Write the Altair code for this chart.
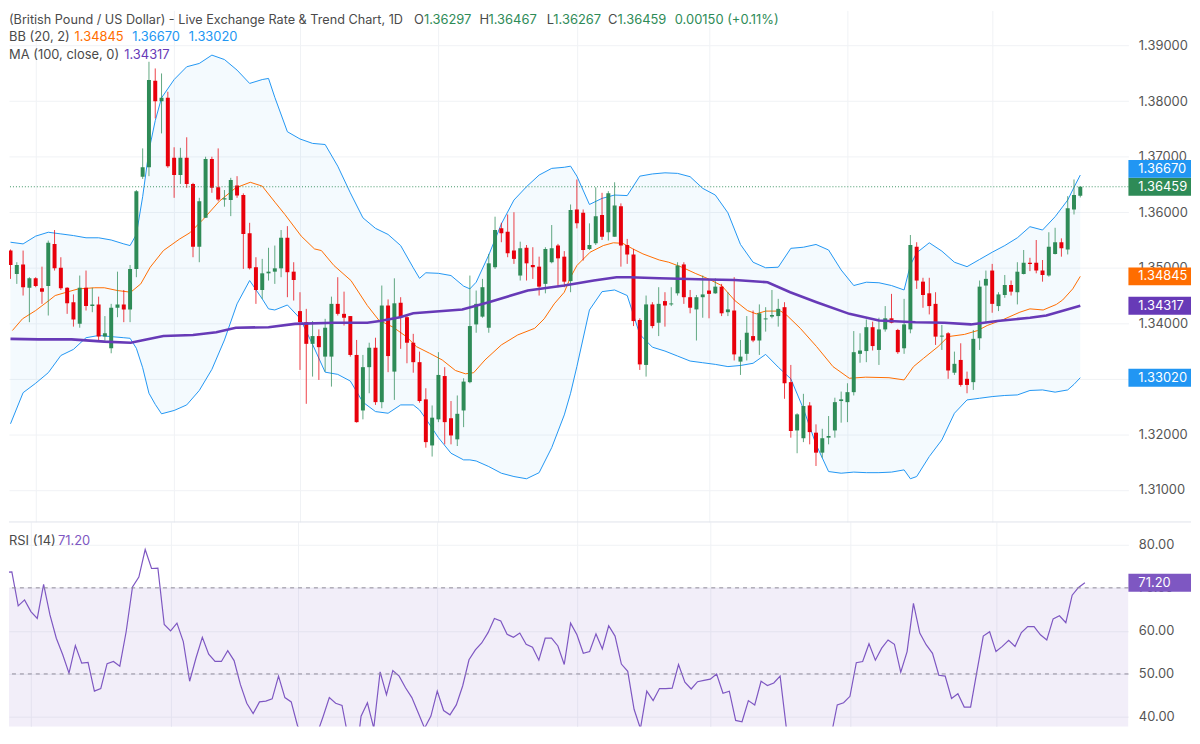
import altair as alt
import pandas as pd
import numpy as np

# ---------------- data ----------------
opens = [
1.3531, 1.3489, 1.3506, 1.3464, 1.3481, 1.3463, 1.3467, 1.3543, 1.3500, 1.3464,
1.3438, 1.3399, 1.3464, 1.3431, 1.3434, 1.3376, 1.3355, 1.3428, 1.3434, 1.3425,
1.3498, 1.3664, 1.3681, 1.3837, 1.3800, 1.3806, 1.3698, 1.3667, 1.3698, 1.3651,
1.3538, 1.3590, 1.3696, 1.3645, 1.3623, 1.3622, 1.3648, 1.3631, 1.3562, 1.3501,
1.3460, 1.3490, 1.3493, 1.3499, 1.3554, 1.3493, 1.3422, 1.3402, 1.3363, 1.3377,
1.3340, 1.3340, 1.3435, 1.3417, 1.3413, 1.3343, 1.3243, 1.3321, 1.3356, 1.3258,
1.3432, 1.3313, 1.3437, 1.3411, 1.3365, 1.3330, 1.3263, 1.3180, 1.3227, 1.3305,
1.3229, 1.3191, 1.3243, 1.3294, 1.3398, 1.3412, 1.3392, 1.3501, 1.3571, 1.3565,
1.3531, 1.3486, 1.3536, 1.3505, 1.3502, 1.3471, 1.3510, 1.3540, 1.3520, 1.3476,
1.3605, 1.3599, 1.3534, 1.3544, 1.3595, 1.3564, 1.3556, 1.3611, 1.3541, 1.3524,
1.3406, 1.3325, 1.3434, 1.3401, 1.3440, 1.3434, 1.3454, 1.3506, 1.3447, 1.3425,
1.3447, 1.3459, 1.3454, 1.3466, 1.3420, 1.3423, 1.3331, 1.3345, 1.3377, 1.3369,
1.3407, 1.3412, 1.3413, 1.3429, 1.3294, 1.3207, 1.3193, 1.3252, 1.3203, 1.3167,
1.3194, 1.3207, 1.3260, 1.3258, 1.3276, 1.3345, 1.3350, 1.3393, 1.3352, 1.3389,
1.3409, 1.3388, 1.3355, 1.3389, 1.3538, 1.3475, 1.3454, 1.3435, 1.3376, 1.3382,
1.3311, 1.3334, 1.3300, 1.3294, 1.3373, 1.3468, 1.3495, 1.3431, 1.3451, 1.3469,
1.3456, 1.3489, 1.3509, 1.3509, 1.3495, 1.3486, 1.3525, 1.3546, 1.3533, 1.3605,
1.36297]

highs = [
1.3533, 1.3510, 1.3531, 1.3483, 1.3483, 1.3502, 1.3549, 1.3568, 1.3519, 1.3465,
1.3452, 1.3486, 1.3495, 1.3464, 1.3448, 1.3413, 1.3435, 1.3493, 1.3460, 1.3505,
1.3640, 1.3715, 1.3871, 1.3859, 1.3850, 1.3817, 1.3717, 1.3716, 1.3735, 1.3653,
1.3626, 1.3700, 1.3700, 1.3715, 1.3640, 1.3662, 1.3665, 1.3634, 1.3581, 1.3519,
1.3516, 1.3536, 1.3540, 1.3568, 1.3575, 1.3510, 1.3456, 1.3426, 1.3404, 1.3389,
1.3408, 1.3448, 1.3483, 1.3457, 1.3413, 1.3370, 1.3343, 1.3365, 1.3374, 1.3468,
1.3443, 1.3481, 1.3447, 1.3415, 1.3381, 1.3349, 1.3283, 1.3252, 1.3348, 1.3321,
1.3260, 1.3270, 1.3301, 1.3486, 1.3459, 1.3480, 1.3525, 1.3592, 1.3581, 1.3596,
1.3600, 1.3547, 1.3541, 1.3537, 1.3520, 1.3537, 1.3577, 1.3543, 1.3530, 1.3614,
1.3659, 1.3605, 1.3580, 1.3645, 1.3635, 1.3638, 1.3654, 1.3616, 1.3552, 1.3534,
1.3409, 1.3450, 1.3438, 1.3465, 1.3456, 1.3465, 1.3510, 1.3510, 1.3460, 1.3451,
1.3486, 1.3480, 1.3481, 1.3471, 1.3456, 1.3483, 1.3370, 1.3413, 1.3423, 1.3434,
1.3429, 1.3460, 1.3444, 1.3438, 1.3325, 1.3238, 1.3273, 1.3258, 1.3218, 1.3210,
1.3233, 1.3266, 1.3277, 1.3292, 1.3386, 1.3382, 1.3407, 1.3403, 1.3410, 1.3431,
1.3453, 1.3390, 1.3444, 1.3559, 1.3546, 1.3482, 1.3482, 1.3456, 1.3397, 1.3384,
1.3349, 1.3364, 1.3313, 1.3388, 1.3477, 1.3495, 1.3507, 1.3456, 1.3487, 1.3477,
1.3510, 1.3532, 1.3518, 1.3550, 1.3514, 1.3564, 1.3572, 1.3553, 1.3629, 1.3659,
1.36467]

lows = [
1.3480, 1.3471, 1.3450, 1.3402, 1.3465, 1.3435, 1.3414, 1.3495, 1.3460, 1.3417,
1.3394, 1.3392, 1.3423, 1.3420, 1.3367, 1.3367, 1.3346, 1.3411, 1.3402, 1.3402,
1.3483, 1.3660, 1.3665, 1.3769, 1.3742, 1.3680, 1.3626, 1.3651, 1.3644, 1.3519,
1.3510, 1.3590, 1.3635, 1.3620, 1.3610, 1.3593, 1.3626, 1.3498, 1.3497, 1.3435,
1.3444, 1.3477, 1.3471, 1.3483, 1.3447, 1.3441, 1.3316, 1.3255, 1.3304, 1.3298,
1.3313, 1.3286, 1.3414, 1.3396, 1.3340, 1.3221, 1.3227, 1.3274, 1.3253, 1.3247,
1.3312, 1.3262, 1.3354, 1.3328, 1.3311, 1.3257, 1.3176, 1.3160, 1.3222, 1.3182,
1.3182, 1.3179, 1.3213, 1.3292, 1.3383, 1.3410, 1.3383, 1.3498, 1.3546, 1.3519,
1.3507, 1.3477, 1.3477, 1.3480, 1.3450, 1.3454, 1.3508, 1.3465, 1.3465, 1.3456,
1.3571, 1.3513, 1.3532, 1.3541, 1.3550, 1.3549, 1.3556, 1.3502, 1.3507, 1.3395,
1.3316, 1.3304, 1.3391, 1.3377, 1.3394, 1.3431, 1.3450, 1.3435, 1.3418, 1.3369,
1.3410, 1.3409, 1.3453, 1.3413, 1.3413, 1.3333, 1.3307, 1.3333, 1.3366, 1.3343,
1.3385, 1.3409, 1.3394, 1.3264, 1.3194, 1.3166, 1.3186, 1.3182, 1.3143, 1.3158,
1.3182, 1.3194, 1.3221, 1.3222, 1.3270, 1.3329, 1.3330, 1.3351, 1.3325, 1.3385,
1.3400, 1.3345, 1.3345, 1.3382, 1.3462, 1.3428, 1.3416, 1.3361, 1.3352, 1.3300,
1.3307, 1.3286, 1.3274, 1.3280, 1.3352, 1.3400, 1.3419, 1.3422, 1.3446, 1.3450,
1.3434, 1.3488, 1.3494, 1.3490, 1.3475, 1.3484, 1.3524, 1.3520, 1.3524, 1.3596,
1.36267]

closes = [
1.3505, 1.3505, 1.3465, 1.3481, 1.3467, 1.3457, 1.3545, 1.3499, 1.3463, 1.3436,
1.3407, 1.3464, 1.3431, 1.3434, 1.3376, 1.3382, 1.3428, 1.3434, 1.3425, 1.3498,
1.3638, 1.3681, 1.3838, 1.3800, 1.3806, 1.3683, 1.3667, 1.3698, 1.3651, 1.3538,
1.3620, 1.3696, 1.3644, 1.3623, 1.3625, 1.3658, 1.3630, 1.3561, 1.3499, 1.3460,
1.3490, 1.3493, 1.3499, 1.3554, 1.3492, 1.3478, 1.3402, 1.3363, 1.3377, 1.3357,
1.3392, 1.3435, 1.3417, 1.3410, 1.3343, 1.3222, 1.3321, 1.3356, 1.3258, 1.3432,
1.3341, 1.3436, 1.3411, 1.3365, 1.3330, 1.3260, 1.3186, 1.3230, 1.3307, 1.3222,
1.3198, 1.3237, 1.3295, 1.3395, 1.3435, 1.3465, 1.3508, 1.3568, 1.3562, 1.3526,
1.3516, 1.3535, 1.3508, 1.3501, 1.3466, 1.3534, 1.3535, 1.3517, 1.3475, 1.3604,
1.3580, 1.3532, 1.3541, 1.3593, 1.3556, 1.3634, 1.3612, 1.3540, 1.3524, 1.3404,
1.3326, 1.3434, 1.3395, 1.3435, 1.3432, 1.3435, 1.3504, 1.3447, 1.3428, 1.3447,
1.3452, 1.3453, 1.3466, 1.3418, 1.3425, 1.3344, 1.3340, 1.3383, 1.3369, 1.3418,
1.3408, 1.3415, 1.3426, 1.3292, 1.3206, 1.3236, 1.3251, 1.3204, 1.3167, 1.3193,
1.3197, 1.3258, 1.3263, 1.3276, 1.3348, 1.3351, 1.3393, 1.3359, 1.3389, 1.3409,
1.3401, 1.3348, 1.3398, 1.3541, 1.3477, 1.3451, 1.3431, 1.3376, 1.3377, 1.3315,
1.3327, 1.3289, 1.3289, 1.3372, 1.3466, 1.3480, 1.3435, 1.3452, 1.3469, 1.3457,
1.3493, 1.3509, 1.3507, 1.3495, 1.3487, 1.3538, 1.3546, 1.3535, 1.3607, 1.3631,
1.36459]

rsi_values = [
73.6, 73.7, 65.8, 67.2, 64.5, 62.9, 70.8, 63.7, 58.3, 54.5,
50.2, 56.6, 52.5, 52.7, 46.0, 46.6, 52.4, 52.9, 51.8, 59.8,
70.2, 72.5, 78.9, 74.5, 74.6, 61.5, 60.0, 61.8, 57.5, 48.3,
53.7, 58.5, 54.6, 52.9, 52.9, 55.4, 53.1, 47.5, 43.2, 40.8,
43.5, 43.7, 44.2, 49.5, 44.5, 43.5, 37.9, 35.5, 37.2, 35.8,
40.0, 44.5, 43.2, 42.7, 35.0, 28.0, 40.2, 43.3, 37.4, 50.5,
45.2, 50.8, 49.5, 46.8, 44.5, 41.0, 37.4, 40.2, 46.0, 41.5,
40.5, 42.8, 47.2, 53.3, 55.6, 57.2, 59.6, 62.9, 62.3, 59.2,
58.5, 59.5, 56.9, 56.2, 53.2, 58.3, 58.3, 56.5, 52.2, 61.8,
59.1, 54.8, 55.2, 59.3, 55.8, 61.2, 58.8, 52.3, 50.6, 41.8,
37.3, 46.0, 43.8, 46.6, 46.6, 46.7, 52.2, 48.1, 46.5, 48.2,
48.5, 48.8, 50.0, 45.5, 46.0, 39.2, 38.9, 43.8, 42.8, 48.3,
47.3, 47.9, 49.5, 37.2, 30.0, 35.2, 36.9, 33.0, 31.0, 34.8,
35.4, 42.8, 43.3, 44.8, 52.6, 52.9, 57.0, 53.2, 56.0, 57.9,
56.9, 50.4, 55.2, 66.4, 59.5, 56.8, 54.8, 49.7, 49.5, 44.3,
45.4, 42.3, 42.3, 50.6, 58.8, 59.8, 55.2, 56.4, 57.8, 56.4,
59.6, 61.0, 61.0, 59.1, 57.9, 62.8, 63.5, 61.9, 68.3, 70.1,
71.20]

# Bollinger band (20, 2) read at these candle positions
band_idx = [0, 2, 4, 6, 8, 10, 12, 14, 16, 18,
            19, 20, 21, 22, 23, 24, 26, 28, 30, 32,
            34, 36, 38, 40, 41, 42, 44, 46, 48, 50,
            52, 54, 56, 58, 60, 62, 64, 65, 66, 68,
            70, 72, 73, 74, 76, 78, 80, 82, 84, 86,
            88, 89, 90, 92, 94, 96, 98, 100, 102, 104,
            106, 108, 110, 112, 114, 116, 118, 120, 122, 124,
            126, 128, 130, 132, 134, 136, 138, 140, 142, 143,
            144, 146, 148, 150, 152, 154, 156, 158, 160, 162,
            164, 166, 168, 169, 170]
bb_upper = [1.3546, 1.3543, 1.3557, 1.3564, 1.3561, 1.3558, 1.3554, 1.3554, 1.3550, 1.3543,
            1.3540, 1.3560, 1.3628, 1.3711, 1.3765, 1.3806, 1.3839, 1.3862, 1.3868, 1.3883,
            1.3875, 1.3856, 1.3832, 1.3839, 1.3841, 1.3807, 1.3745, 1.3732, 1.3724, 1.3722,
            1.3683, 1.3635, 1.3590, 1.3571, 1.3560, 1.3540, 1.3500, 1.3481, 1.3491, 1.3490,
            1.3486, 1.3467, 1.3462, 1.3474, 1.3523, 1.3579, 1.3622, 1.3646, 1.3667, 1.3679,
            1.3681, 1.3683, 1.3665, 1.3614, 1.3625, 1.3631, 1.3630, 1.3665, 1.3669, 1.3671,
            1.3670, 1.3664, 1.3643, 1.3631, 1.3599, 1.3542, 1.3510, 1.3500, 1.3501, 1.3535,
            1.3537, 1.3542, 1.3532, 1.3496, 1.3468, 1.3474, 1.3473, 1.3468, 1.3460, 1.3505,
            1.3527, 1.3545, 1.3530, 1.3510, 1.3502, 1.3515, 1.3528, 1.3540, 1.3554, 1.3574,
            1.3568, 1.3592, 1.3622, 1.3645, 1.3667]
bb_lower = [1.3219, 1.3275, 1.3292, 1.3311, 1.3342, 1.3353, 1.3374, 1.3378, 1.3376, 1.3374,
            1.3373, 1.3355, 1.3320, 1.3274, 1.3254, 1.3237, 1.3243, 1.3253, 1.3279, 1.3317,
            1.3370, 1.3435, 1.3477, 1.3444, 1.3426, 1.3424, 1.3433, 1.3409, 1.3362, 1.3312,
            1.3308, 1.3296, 1.3258, 1.3241, 1.3238, 1.3253, 1.3253, 1.3244, 1.3228, 1.3194,
            1.3166, 1.3154, 1.3154, 1.3152, 1.3142, 1.3130, 1.3124, 1.3120, 1.3131, 1.3176,
            1.3235, 1.3274, 1.3322, 1.3424, 1.3457, 1.3460, 1.3450, 1.3380, 1.3357, 1.3350,
            1.3341, 1.3332, 1.3329, 1.3326, 1.3322, 1.3324, 1.3328, 1.3344, 1.3321, 1.3300,
            1.3246, 1.3182, 1.3133, 1.3130, 1.3132, 1.3131, 1.3131, 1.3132, 1.3136, 1.3120,
            1.3124, 1.3160, 1.3190, 1.3238, 1.3262, 1.3265, 1.3268, 1.3270, 1.3271, 1.3279,
            1.3280, 1.3276, 1.3280, 1.3290, 1.3302]

mid_idx = [0.3, 1.9, 4.0, 6.1, 7.1, 9.2, 10.8, 13.4, 14.9, 17.0,
           19.1, 20.7, 22.2, 24.3, 26.9, 28.5, 30.6, 33.2, 35.8, 38.1,
           40.0, 42.1, 43.6, 46.2, 48.3, 49.4, 51.4, 54.1, 56.7, 58.5,
           60.8, 62.9, 64.5, 66.6, 68.6, 70.7, 72.3, 73.6, 75.4, 78.0,
           80.6, 83.3, 84.8, 86.4, 88.0, 89.0, 90.0, 92.1, 94.2, 95.8,
           97.3, 98.9, 100.5, 103.1, 104.6, 106.7, 108.8, 110.9, 113.0, 115.1,
           117.1, 118.5, 120.0, 122.4, 123.4, 125.5, 128.1, 130.7, 133.3, 135.9,
           139.6, 142.0, 143.5, 145.1, 147.4, 149.0, 151.6, 153.7, 155.2, 157.8,
           160.4, 162.0, 164.1, 166.2, 167.2, 168.8, 170]
bb_mid = [1.3387, 1.3408, 1.3423, 1.3441, 1.3450, 1.3457, 1.3462, 1.3464, 1.3464, 1.3459,
          1.3456, 1.3471, 1.3501, 1.3531, 1.3552, 1.3563, 1.3587, 1.3620, 1.3644, 1.3654,
          1.3647, 1.3617, 1.3596, 1.3557, 1.3534, 1.3531, 1.3504, 1.3477, 1.3432, 1.3406,
          1.3393, 1.3376, 1.3358, 1.3346, 1.3334, 1.3315, 1.3309, 1.3311, 1.3334, 1.3361,
          1.3379, 1.3391, 1.3408, 1.3435, 1.3456, 1.3483, 1.3504, 1.3528, 1.3540, 1.3545,
          1.3544, 1.3534, 1.3525, 1.3514, 1.3510, 1.3501, 1.3490, 1.3480, 1.3468, 1.3441,
          1.3423, 1.3417, 1.3422, 1.3422, 1.3414, 1.3391, 1.3358, 1.3322, 1.3301, 1.3303,
          1.3302, 1.3298, 1.3322, 1.3337, 1.3358, 1.3376, 1.3380, 1.3387, 1.3396, 1.3407,
          1.3420, 1.3426, 1.3424, 1.3434, 1.3442, 1.3462, 1.34845]

ma_idx = [0, 4.5, 9.7, 14.9, 19.1, 21.2, 24.3, 29.0, 32.7, 35.8,
          41.0, 45.2, 51.4, 56.7, 58.7, 61.9, 64.0, 71.8, 76.0, 82.2,
          88.0, 92.7, 96.3, 98.4, 103.1, 110.9, 115.1, 120.3, 123.9, 128.1,
          133.3, 138.0, 143.8, 148.4, 152.6, 156.8, 162.0, 164.6, 170]
ma100 = [1.3372, 1.3371, 1.3371, 1.3367, 1.3365, 1.3370, 1.3377, 1.3379, 1.3384, 1.3392,
         1.3393, 1.3399, 1.3401, 1.3401, 1.3404, 1.3411, 1.3418, 1.3425, 1.3438, 1.3459,
         1.3468, 1.3477, 1.3483, 1.3483, 1.3481, 1.3479, 1.3478, 1.3474, 1.3456, 1.3438,
         1.3417, 1.3405, 1.3402, 1.3401, 1.3398, 1.3404, 1.3410, 1.3414, 1.34317]

month_starts = [4, 26, 46, 68, 90, 111, 133, 156]
price_ticks = [1.31, 1.32, 1.33, 1.34, 1.35, 1.36, 1.37, 1.38, 1.39]
rsi_ticks = [40, 50, 60, 70, 80]

last_vals = {"o": "1.36297", "h": "1.36467", "l": "1.36267", "c": "1.36459",
             "chg": "0.00150 (+0.11%)"}
bb_last = {"mid": 1.34845, "up": 1.36670, "lo": 1.33020}
ma_last = 1.34317
rsi_last = 71.20

# ---------------- layout / style ----------------
W = 1127
H_MAIN = 515
H_RSI = 206
X_DOM = [0.548, 176.86]
Y_DOM = [1.30422, 1.39635]
R_DOM = [37.77, 85.31]

UP = "#2e8b57"
DOWN = "#e8000b"
BLUE = "#2196f3"
ORANGE = "#ff6d00"
PURPLE = "#673ab7"
RSI_C = "#7e57c2"
GRID = "#f0f2f5"
TXT = "#4a4a4a"
AX = "#555555"
FONT = "Inter"

n = len(opens)
candles = pd.DataFrame({"i": list(range(n)), "open": opens, "high": highs,
                        "low": lows, "close": closes})
candles["dir"] = np.where(candles["close"] >= candles["open"], "up", "down")
b_lo = candles[["open", "close"]].min(axis=1)
b_hi = candles[["open", "close"]].max(axis=1)
candles["b_lo"] = b_lo
candles["b_hi"] = np.maximum(b_hi, b_lo + 0.00018)

band_df = pd.DataFrame({"i": band_idx, "upper": bb_upper, "lower": bb_lower})
mid_df = pd.DataFrame({"i": mid_idx, "mid": bb_mid})
ma_df = pd.DataFrame({"i": ma_idx, "ma": ma100})
rsi_df = pd.DataFrame({"i": list(range(len(rsi_values))), "rsi": rsi_values})
one = pd.DataFrame({"k": [0]})

xs = alt.Scale(domain=X_DOM, nice=False, zero=False)
x_axis = alt.Axis(values=month_starts, grid=True, gridColor=GRID, labels=False,
                  ticks=False, domain=False, title=None, minExtent=0, maxExtent=0)
ys = alt.Scale(domain=Y_DOM, nice=False, zero=False)
y_axis = alt.Axis(orient="right", values=price_ticks, format=".5f", grid=True,
                  gridColor=GRID, ticks=False, domain=False, labelPadding=10,
                  labelFontSize=13, labelColor=AX, labelFont=FONT, title=None)
rs = alt.Scale(domain=R_DOM, nice=False, zero=False)
r_axis = alt.Axis(orient="right", values=rsi_ticks, format=".2f", grid=True,
                  gridColor=GRID, ticks=False, domain=False, labelPadding=10,
                  labelFontSize=13, labelColor=AX, labelFont=FONT, title=None)


def X(f):
    return alt.X(f"{f}:Q", scale=xs, axis=x_axis)


def Y(f):
    return alt.Y(f"{f}:Q", scale=ys, axis=y_axis)


def R(f):
    return alt.Y(f"{f}:Q", scale=rs, axis=r_axis)


def txt(s, x, y, color, size=13):
    return alt.Chart(one).mark_text(text=s, align="left", baseline="middle",
                                    fontSize=size, font=FONT, color=color).encode(
        x=alt.value(x), y=alt.value(y))


color = alt.Color("dir:N", scale=alt.Scale(domain=["up", "down"], range=[UP, DOWN]),
                  legend=None)

band = alt.Chart(band_df).mark_area(color=BLUE, opacity=0.05, clip=True).encode(
    x=X("i"), y=Y("upper"), y2="lower")
upper_line = alt.Chart(band_df).mark_line(color=BLUE, strokeWidth=1, clip=True).encode(
    x=X("i"), y=Y("upper"))
lower_line = alt.Chart(band_df).mark_line(color=BLUE, strokeWidth=1, clip=True).encode(
    x=X("i"), y=Y("lower"))
mid_line = alt.Chart(mid_df).mark_line(color=ORANGE, strokeWidth=1, clip=True).encode(
    x=X("i"), y=Y("mid"))
ma_line = alt.Chart(ma_df).mark_line(color=PURPLE, strokeWidth=2.6, clip=True).encode(
    x=X("i"), y=Y("ma"))
wicks = alt.Chart(candles).mark_rule(strokeWidth=1, opacity=0.75, clip=True).encode(
    x=X("i"), y=Y("low"), y2="high", color=color)
bodies = alt.Chart(candles).mark_bar(width=4, clip=True).encode(
    x=X("i"), y=Y("b_lo"), y2="b_hi", color=color)
close_line = alt.Chart(one).mark_rule(color=UP, strokeDash=[1, 2], strokeWidth=1,
                                      opacity=0.9).encode(
    y=alt.datum(float(last_vals["c"])))

# price tags on the right axis (shifted so that they do not overlap each other)
px_per = H_MAIN / (Y_DOM[1] - Y_DOM[0])
box_h = 18 / px_per
tags = pd.DataFrame({
    "val": [bb_last["up"], float(last_vals["c"]), bb_last["mid"], ma_last, bb_last["lo"]],
    "txt": ["1.36670", "1.36459", "1.34845", "1.34317", "1.33020"],
    "col": [BLUE, UP, ORANGE, PURPLE, BLUE],
}).sort_values("val").reset_index(drop=True)
centers = []
for v in tags["val"]:
    centers.append(v if not centers else max(v, centers[-1] + box_h))
tags["c"] = centers
tags["top"] = tags["c"] + box_h / 2
tags["bot"] = tags["c"] - box_h / 2

tag_layers = []
for _, r in tags.iterrows():
    d = pd.DataFrame([r])
    tag_layers.append(alt.Chart(d).mark_rect(color=r["col"]).encode(
        x=alt.value(W), x2=alt.value(W + 63), y=Y("top"), y2="bot"))
    tag_layers.append(alt.Chart(d).mark_text(align="left", baseline="middle", fontSize=13,
                                             font=FONT, color="white").encode(
        x=alt.value(W + 10), y=Y("c"), text="txt:N"))

header = [
    txt("(British Pound / US Dollar) - Live Exchange Rate & Trend Chart, 1D", 0, 9.5, TXT,
        size=12.75),
    txt("O", 407.7, 9.5, TXT), txt(last_vals["o"], 417.7, 9.5, UP),
    txt("H", 473.7, 9.5, TXT), txt(last_vals["h"], 482.7, 9.5, UP),
    txt("L", 541.3, 9.5, TXT), txt(last_vals["l"], 548.0, 9.5, UP),
    txt("C", 603.0, 9.5, TXT), txt(last_vals["c"], 612.7, 9.5, UP),
    txt(last_vals["chg"], 670.3, 9.5, UP),
    txt("BB (20, 2)", 0, 27, TXT),
    txt(f"{bb_last['mid']:.5f}", 66, 27, ORANGE),
    txt(f"{bb_last['up']:.5f}", 124, 27, BLUE),
    txt(f"{bb_last['lo']:.5f}", 181, 27, BLUE),
    txt("MA (100, close, 0)", 0, 45.3, TXT),
    txt(f"{ma_last:.5f}", 116, 45.3, PURPLE),
]

main = alt.layer(band, upper_line, lower_line, mid_line, wicks, bodies, ma_line,
                 close_line, *tag_layers, *header).properties(width=W, height=H_MAIN)

# ---------------- RSI panel ----------------
r_box = 9 / (H_RSI / (R_DOM[1] - R_DOM[0]))
rsi_tag = pd.DataFrame({"c": [rsi_last], "top": [rsi_last + r_box],
                        "bot": [rsi_last - r_box], "txt": [f"{rsi_last:.2f}"]})

rsi_band = alt.Chart(one).mark_rect(color=RSI_C, opacity=0.1, clip=True).encode(
    y=alt.Y(datum=70, scale=rs, axis=r_axis), y2=alt.datum(30))
rule70 = alt.Chart(one).mark_rule(color="#8f8b99", strokeDash=[4, 4], strokeWidth=1).encode(
    y=alt.datum(70))
rule50 = alt.Chart(one).mark_rule(color="#8f8b99", strokeDash=[4, 4], strokeWidth=1).encode(
    y=alt.datum(50))
rsi_line = alt.Chart(rsi_df).mark_line(color=RSI_C, strokeWidth=1.2, clip=True).encode(
    x=X("i"), y=R("rsi"))
sep = alt.Chart(one).mark_rule(color="#e0e3eb", strokeWidth=1).encode(
    x=alt.value(0), x2=alt.value(W + 63), y=alt.value(0))
rsi_box = alt.Chart(rsi_tag).mark_rect(color=RSI_C).encode(
    x=alt.value(W), x2=alt.value(W + 63), y=R("top"), y2="bot")
rsi_box_txt = alt.Chart(rsi_tag).mark_text(align="left", baseline="middle", fontSize=13,
                                           font=FONT, color="white").encode(
    x=alt.value(W + 10), y=R("c"), text="txt:N")
rsi_lbl = txt("RSI (14)", 0, 18.7, TXT)
rsi_val = txt(f"{rsi_last:.2f}", 49.3, 18.7, RSI_C)

rsi = alt.layer(rsi_band, rsi_line, rule70, rule50, sep, rsi_box, rsi_box_txt,
                rsi_lbl, rsi_val).properties(width=W, height=H_RSI)

chart = alt.vconcat(main, rsi, spacing=0, bounds="flush").properties(
    padding=0, background="white"
).configure(font=FONT).configure_view(strokeWidth=0)

chart.save("out.html", embed_options={"renderer": "svg", "actions": False})
